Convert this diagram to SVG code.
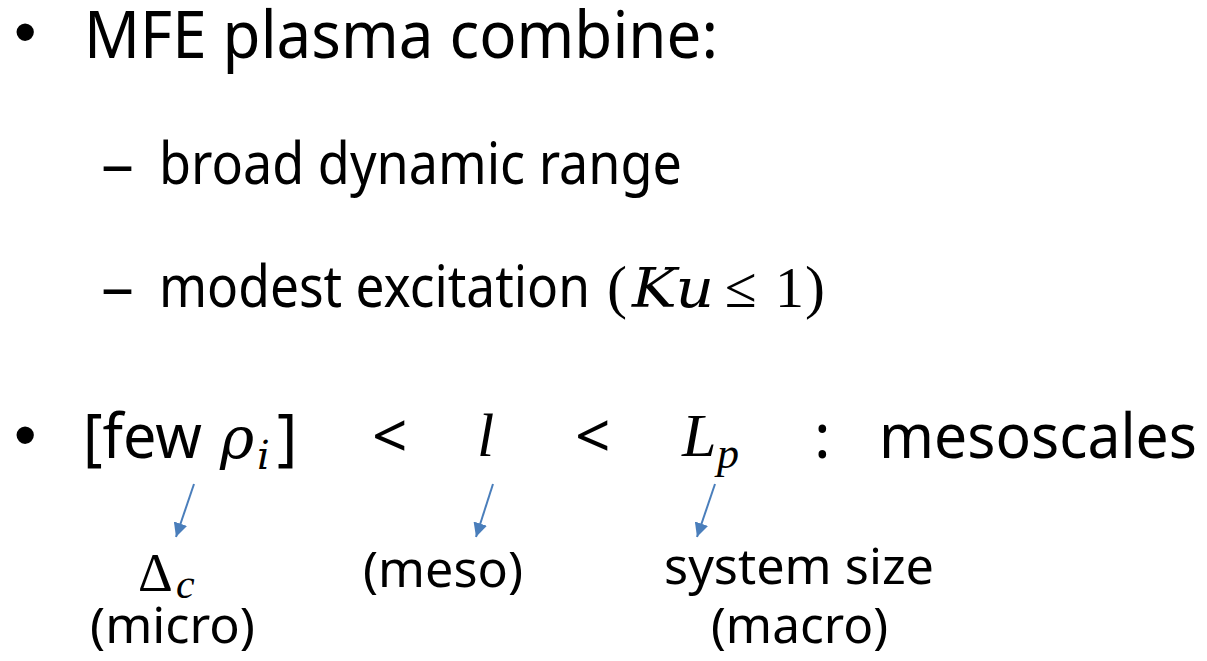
<svg xmlns="http://www.w3.org/2000/svg" width="1207" height="661" viewBox="0 0 1207 661">
<style>
.t{font-family:"Noto Sans","Open Sans","Liberation Sans",sans-serif;fill:#000}
.m{font-family:"Liberation Serif","DejaVu Serif",serif;fill:#000}
.d{font-family:"DejaVu Serif","Liberation Serif",serif;fill:#000}
.i{font-style:italic}
.bul{font-family:"Liberation Sans",sans-serif;fill:#000}
.arr{stroke:#4A7EBB;stroke-width:2;fill:none}
</style>
<defs>
<marker id="ah" viewBox="0 0 10 10" refX="10" refY="5" markerWidth="7" markerHeight="7" markerUnits="strokeWidth" orient="auto">
<path d="M0,0 L10,5 L0,10 z" fill="#4A7EBB"/>
</marker>
</defs>
<rect width="1207" height="661" fill="#fff"/>
<g id="line1">
<text class="bul" x="14" y="54" font-size="64">•</text>
<text class="t" x="84" y="58" font-size="66" textLength="634" lengthAdjust="spacingAndGlyphs">MFE plasma combine:</text>
</g>
<g id="line2">
<text class="t" x="101" y="184" font-size="58" textLength="33" lengthAdjust="spacingAndGlyphs">–</text>
<text class="t" x="159" y="184" font-size="58" textLength="523" lengthAdjust="spacingAndGlyphs">broad dynamic range</text>
</g>
<g id="line3">
<text class="t" x="101" y="307" font-size="58" textLength="33" lengthAdjust="spacingAndGlyphs">–</text>
<text class="t" x="159" y="307" font-size="58" textLength="431" lengthAdjust="spacingAndGlyphs">modest excitation</text>
<text class="m" x="607" y="307" font-size="60">(</text>
<text class="d i" x="632" y="307" font-size="54" textLength="82" lengthAdjust="spacingAndGlyphs">Ku</text>
<text class="m" x="725" y="307" font-size="58">≤</text>
<text class="m" x="775" y="307" font-size="58">1</text>
<text class="m" x="805" y="307" font-size="60">)</text>
</g>
<g id="line4">
<text class="bul" x="14" y="457" font-size="64">•</text>
<text class="t" x="83" y="458" font-size="62" textLength="119" lengthAdjust="spacingAndGlyphs">[few</text>
<text class="d i" x="220" y="458" font-size="58">ρ</text>
<text class="d i" x="257" y="469" font-size="40">i</text>
<text class="t" x="277" y="458" font-size="62">]</text>
<text class="t" x="372" y="458" font-size="62">&lt;</text>
<text class="m i" x="477" y="456" font-size="62">l</text>
<text class="t" x="575" y="458" font-size="62">&lt;</text>
<text class="m i" x="682" y="456" font-size="62">L</text>
<text class="m i" x="717" y="468" font-size="44">p</text>
<text class="t" x="814" y="458" font-size="62">:</text>
<text class="t" x="879" y="458" font-size="62" textLength="318" lengthAdjust="spacingAndGlyphs">mesoscales</text>
</g>
<g id="labels">
<text class="m" x="138" y="591" font-size="54">Δ</text>
<text class="m i" x="176" y="598" font-size="42">c</text>
<text class="t" x="90" y="643" font-size="50" textLength="165" lengthAdjust="spacingAndGlyphs">(micro)</text>
<text class="t" x="363" y="587" font-size="50" textLength="160" lengthAdjust="spacingAndGlyphs">(meso)</text>
<text class="t" x="664" y="584" font-size="50" textLength="270" lengthAdjust="spacingAndGlyphs">system size</text>
<text class="t" x="711" y="643" font-size="50" textLength="177" lengthAdjust="spacingAndGlyphs">(macro)</text>
</g>
<g id="connectors">
<line class="arr" x1="194" y1="484" x2="176" y2="537" marker-end="url(#ah)"/>
<line class="arr" x1="493" y1="484" x2="476" y2="537" marker-end="url(#ah)"/>
<line class="arr" x1="715" y1="484" x2="697" y2="537" marker-end="url(#ah)"/>
</g>
</svg>
